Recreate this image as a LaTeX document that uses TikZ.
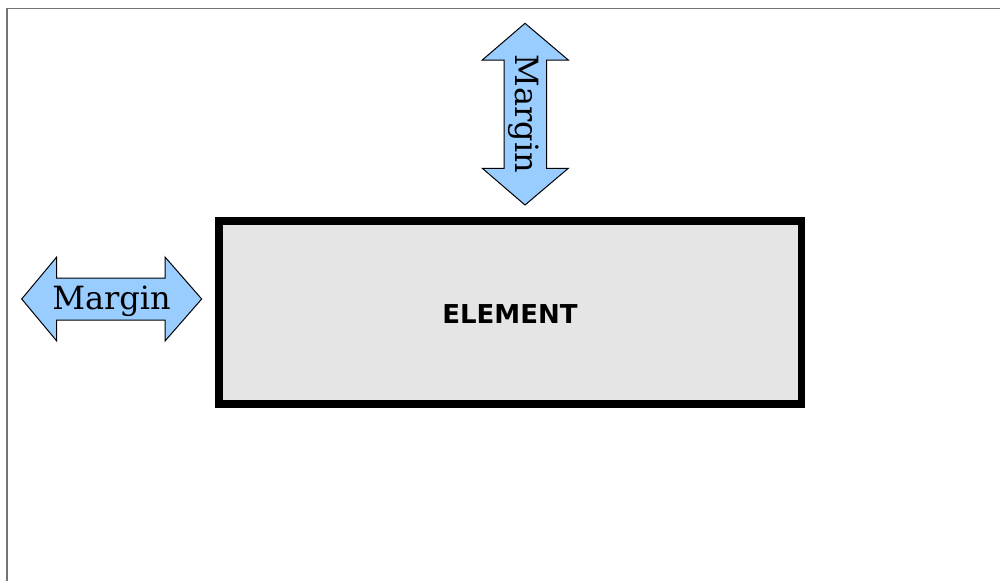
\documentclass[tikz,border=0pt]{standalone}
\usepackage{fontspec}
\newfontfamily\labelfont{DejaVu Serif}
\newfontfamily\boxfont{DejaVu Sans}
\begin{document}
\begin{tikzpicture}[x=1pt,y=-1pt,
  frame/.style={draw=black!55,line width=1.5pt},
  marginarrow/.style={draw=black,line width=1pt,fill=arrowblue,line join=miter},
  elementbox/.style={draw=black,line width=7.5pt,fill=black!10},
  marginlabel/.style={font=\labelfont\fontsize{32}{32}\selectfont,inner sep=0pt},
  elementlabel/.style={font=\boxfont\bfseries\fontsize{26}{26}\selectfont,inner sep=0pt}]
\definecolor{arrowblue}{HTML}{99CCFF}
\useasboundingbox (0,0) rectangle (1000,581);

% page frame (top and left edges)
\draw[frame] (1000,8.5) -- (7,8.5) -- (7,581);

% element box
\draw[elementbox] (219,221) rectangle (801.5,404);
\node[elementlabel] (element) at (510,314) {ELEMENT};

% horizontal double arrow (left margin)
\draw[marginarrow] (21.7,299) -- (56.7,257) -- (56.7,278) -- (165,278) -- (165,257)
  -- (201.7,299) -- (165,341) -- (165,320) -- (56.7,320) -- (56.7,341) -- cycle;
\node[marginlabel] (leftlabel) at (111.5,301) {Margin};

% vertical double arrow (top margin)
\draw[marginarrow] (525,23.3) -- (568.3,60) -- (546.7,60) -- (546.7,168.3) -- (568.3,168.3)
  -- (525,205) -- (482.3,168.3) -- (504,168.3) -- (504,60) -- (482.3,60) -- cycle;
\node[marginlabel,rotate=-90] (toplabel) at (524,114) {Margin};
\end{tikzpicture}
\end{document}
